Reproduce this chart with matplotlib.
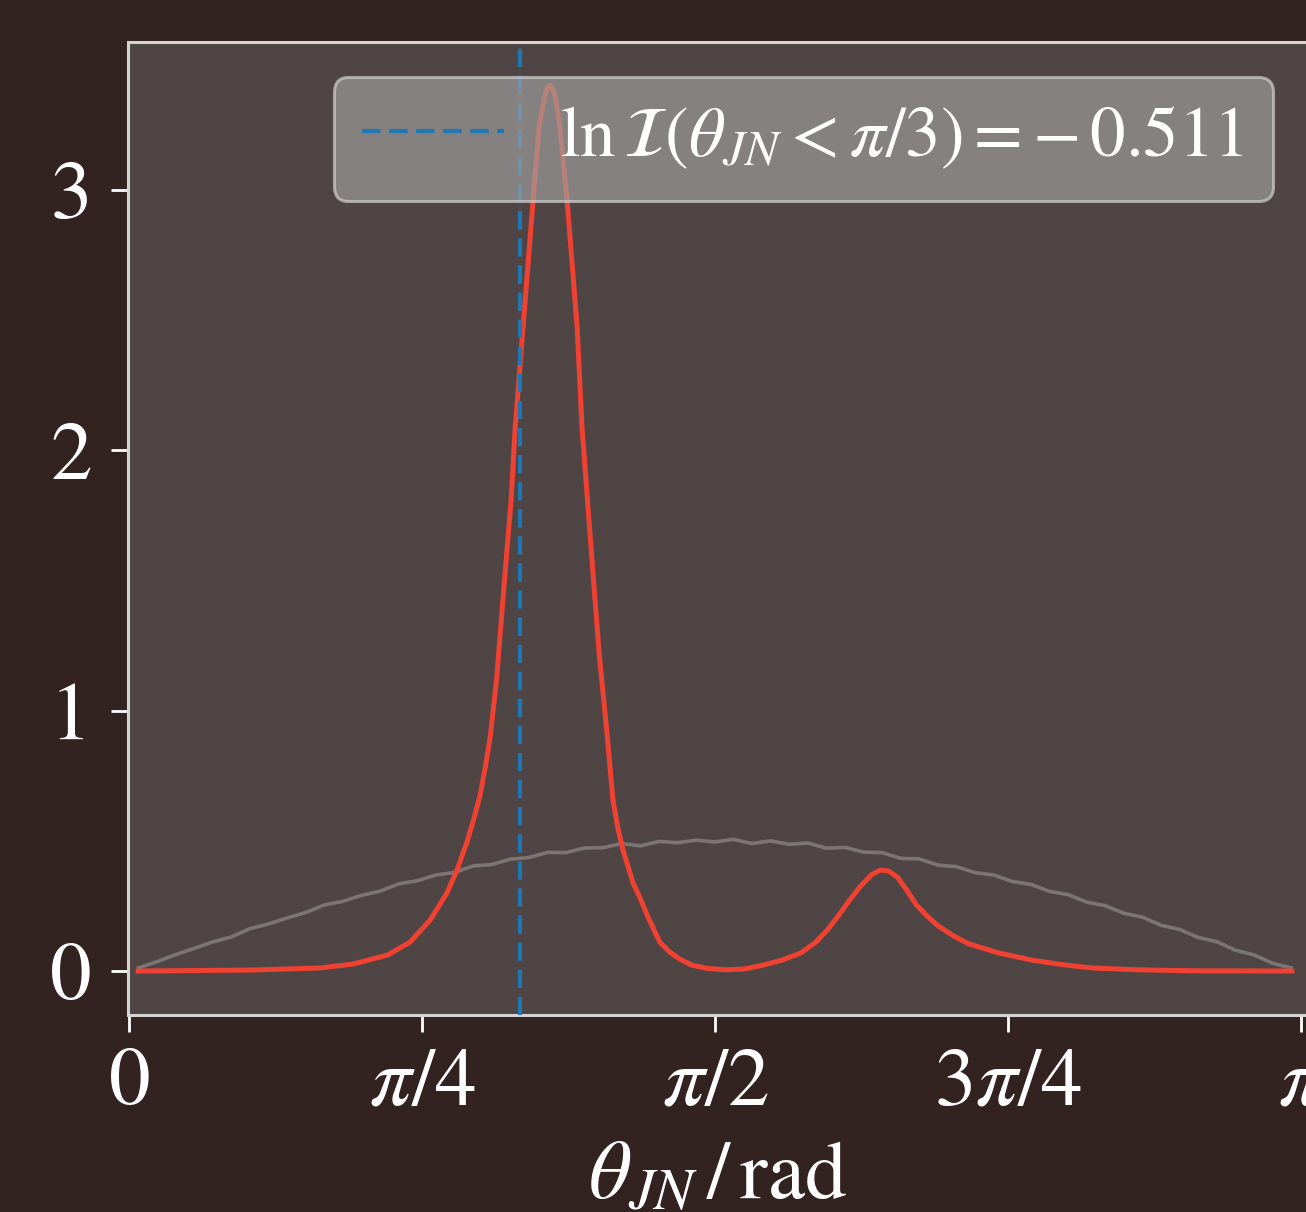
import numpy as np
import matplotlib
matplotlib.use('Agg')
from matplotlib import pyplot as plt

# posterior of theta_JN (red)
theta_post = [0.024, 0.332, 0.400, 0.450, 0.512, 0.600, 0.692, 0.753, 0.807, 0.852,
              0.879, 0.906, 0.925, 0.941, 0.955, 0.968, 0.985, 1.002, 1.013, 1.024,
              1.035, 1.056, 1.083, 1.099, 1.112, 1.120, 1.128, 1.136, 1.144, 1.155,
              1.174, 1.201, 1.214, 1.230, 1.249, 1.260, 1.281, 1.297, 1.310, 1.324,
              1.351, 1.370, 1.391, 1.423, 1.450, 1.477, 1.510, 1.550, 1.600, 1.650,
              1.700, 1.750, 1.800, 1.840, 1.870, 1.900, 1.930, 1.960, 1.990, 2.013,
              2.035, 2.060, 2.085, 2.110, 2.140, 2.170, 2.210, 2.250, 2.330, 2.420,
              2.500, 2.580, 2.700, 2.860, 3.117]
dens_post = [0.000, 0.004, 0.007, 0.009, 0.012, 0.027, 0.061, 0.111, 0.196, 0.300,
             0.388, 0.497, 0.589, 0.677, 0.785, 0.900, 1.120, 1.425, 1.620, 1.810,
             2.090, 2.474, 2.962, 3.242, 3.346, 3.390, 3.404, 3.390, 3.346, 3.242,
             2.962, 2.474, 2.090, 1.783, 1.425, 1.220, 0.914, 0.657, 0.550, 0.465,
             0.338, 0.280, 0.207, 0.110, 0.072, 0.045, 0.022, 0.010, 0.005, 0.008,
             0.023, 0.042, 0.069, 0.110, 0.155, 0.210, 0.270, 0.325, 0.370, 0.388,
             0.385, 0.360, 0.310, 0.255, 0.210, 0.172, 0.135, 0.105, 0.070, 0.042,
             0.025, 0.012, 0.005, 0.001, 0.000]

# prior histogram (grey), bin centres
theta_prior = np.linspace(0.025, 3.115, 63)
dens_prior = [0.012, 0.036, 0.063, 0.087, 0.112, 0.131, 0.163, 0.181, 0.204, 0.225,
              0.254, 0.268, 0.291, 0.307, 0.335, 0.347, 0.369, 0.379, 0.404, 0.409,
              0.430, 0.436, 0.456, 0.455, 0.473, 0.474, 0.490, 0.481, 0.498, 0.493,
              0.503, 0.496, 0.506, 0.490, 0.500, 0.487, 0.492, 0.472, 0.475, 0.457,
              0.455, 0.433, 0.431, 0.407, 0.401, 0.378, 0.369, 0.344, 0.333, 0.306,
              0.294, 0.265, 0.251, 0.222, 0.207, 0.176, 0.160, 0.129, 0.113, 0.080,
              0.062, 0.030, 0.012]

cut = np.pi / 3
ln_I = -0.511

xticks = [0, np.pi / 4, np.pi / 2, 3 * np.pi / 4, np.pi]
xticklabels = [r'$0$', r'$\pi/4$', r'$\pi/2$', r'$3\pi/4$', r'$\pi$']
yticks = [0, 1, 2, 3]

plt.rcParams['font.family'] = 'serif'
plt.rcParams['font.serif'] = ['STIXGeneral', 'Liberation Serif', 'DejaVu Serif']
plt.rcParams['mathtext.fontset'] = 'stix'

BG = '#322220'
AX_BG = '#4f4544'

fig = plt.figure(figsize=(6.53, 6.06), dpi=200, facecolor=BG)
ax = fig.add_axes([0.098, 0.1625, 0.9035, 0.8028], facecolor=AX_BG)

ax.plot(theta_prior, dens_prior, color='#7b7675', lw=1.3, zorder=2)
ax.plot(theta_post, dens_post, color='#f04232', lw=1.8, zorder=3,
        solid_joinstyle='round')
ax.axvline(cut, color='#1f77b4', ls=(0, (4.4, 2.1)), lw=1.5, zorder=4,
           label=r'$\ln\mathcal{I}(\theta_{JN} < \pi/3) = -\,%.3f$' % abs(ln_I))

ax.set_xlim(-0.003, 3.16)
ax.set_ylim(-0.169, 3.569)
ax.set_xticks(xticks)
ax.set_xticklabels(xticklabels)
ax.set_yticks(yticks)
ax.set_yticklabels([str(t) for t in yticks])

for s in ax.spines.values():
    s.set_color('#d6d4d2')
    s.set_linewidth(1.1)
ax.tick_params(colors='white', labelcolor='white', labelsize=30, length=6, width=1.0)
ax.tick_params(axis='y', pad=7)
ax.tick_params(axis='x', pad=6)

ax.set_xlabel(r'$\theta_{JN}\,/\,\mathrm{rad}$', color='white', fontsize=30, labelpad=7)

leg = ax.legend(loc='upper right', fontsize=25.5, facecolor='#9c9c9a', edgecolor='#d0cecc',
                framealpha=0.7, fancybox=True)
leg.set_zorder(10)
for t in leg.get_texts():
    t.set_color('white')
leg.get_frame().set_linewidth(1.1)

fig.savefig('out.png', dpi=200, facecolor=BG)
